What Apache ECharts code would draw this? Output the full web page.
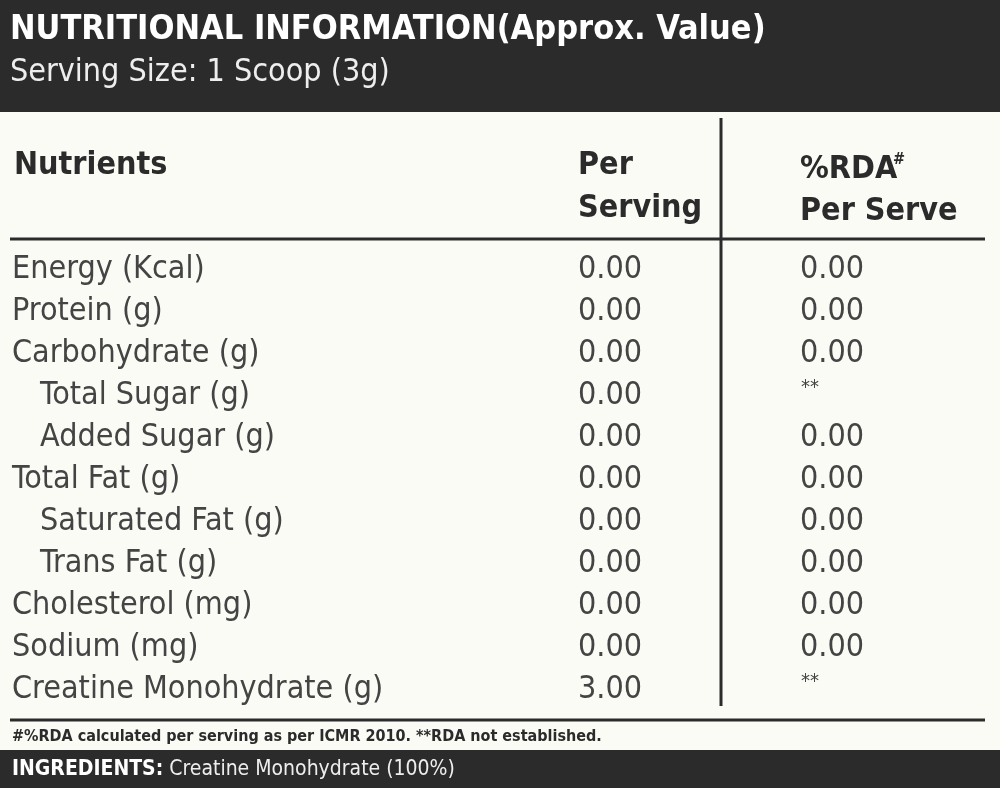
<!DOCTYPE html>
<html>
<head>
<meta charset="utf-8">
<script src="https://cdn.jsdelivr.net/npm/echarts@6/dist/echarts.min.js"></script>
<style>html,body{margin:0;padding:0;background:#fbfbf6}#main{width:1000px;height:788px}</style>
</head>
<body>
<div id="main"></div>
<script>
// 营养成分表
var nutrients = ['Energy (Kcal)', 'Protein (g)', 'Carbohydrate (g)', 'Total Sugar (g)', 'Added Sugar (g)',
    'Total Fat (g)', 'Saturated Fat (g)', 'Trans Fat (g)', 'Cholesterol (mg)', 'Sodium (mg)', 'Creatine Monohydrate (g)'];
var indented = [false, false, false, true, true, false, true, true, false, false, false];
var perServing = ['0.00', '0.00', '0.00', '0.00', '0.00', '0.00', '0.00', '0.00', '0.00', '0.00', '3.00'];
var rdaPerServe = ['0.00', '0.00', '0.00', '**', '0.00', '0.00', '0.00', '0.00', '0.00', '0.00', '**'];

var FONT = '"Liberation Sans Narrow", "DejaVu Sans Condensed", sans-serif';
var chart = echarts.init(document.getElementById('main'));

function txt(x, y, s, size, color, weight) {
    return {type: 'text', x: x, y: y, style: {text: s, fontSize: size, fill: color, fontFamily: FONT,
        fontWeight: weight || 'normal', textVerticalAlign: 'middle'}};
}
function line(x1, y1, x2, y2, w) {
    return {type: 'line', shape: {x1: x1, y1: y1, x2: x2, y2: y2}, style: {stroke: '#2b2b2b', lineWidth: w}};
}

var els = [
    {type: 'rect', shape: {x: 0, y: 0, width: 1000, height: 112}, style: {fill: '#2b2b2b'}},
    {type: 'rect', shape: {x: 0, y: 750, width: 1000, height: 38}, style: {fill: '#2b2b2b'}},
    txt(10, 30, 'NUTRITIONAL INFORMATION(Approx. Value)', 34, '#fff', 'bold'),
    txt(10, 73, 'Serving Size: 1 Scoop (3g)', 32, '#eee'),
    txt(14, 166, 'Nutrients', 32, '#2b2b2b', 'bold'),
    txt(578, 166, 'Per', 32, '#2b2b2b', 'bold'),
    txt(578, 209, 'Serving', 32, '#2b2b2b', 'bold'),
    txt(800, 170, '%RDA', 32, '#2b2b2b', 'bold'),
    txt(893, 160, '#', 16, '#2b2b2b', 'bold'),
    txt(800, 212, 'Per Serve', 32, '#2b2b2b', 'bold'),
    line(721, 118, 721, 706, 3),
    line(10, 239, 985, 239, 3),
    line(10, 720, 985, 720, 3),
    txt(12, 737, '#%RDA calculated per serving as per ICMR 2010. **RDA not established.', 16, '#2b2b2b', 'bold'),
    {type: 'text', x: 12, y: 770, style: {text: '{b|INGREDIENTS:} Creatine Monohydrate (100%)', fontSize: 21,
        fill: '#eee', fontFamily: FONT, textVerticalAlign: 'middle', rich: {b: {fontWeight: 'bold', fontSize: 21, fill: '#fff', fontFamily: FONT}}}}
];

nutrients.forEach(function (name, i) {
    var y = 270 + i * 42;
    els.push(txt(indented[i] ? 40 : 12, y, name, 32, '#444'));
    els.push(txt(578, y, perServing[i], 32, '#444'));
    if (rdaPerServe[i] === '**') {
        els.push(txt(801, y - 8, '**', 20, '#444'));
    } else {
        els.push(txt(800, y, rdaPerServe[i], 32, '#444'));
    }
});

chart.setOption({backgroundColor: '#fbfbf6', graphic: {elements: els}});
</script>
</body>
</html>
